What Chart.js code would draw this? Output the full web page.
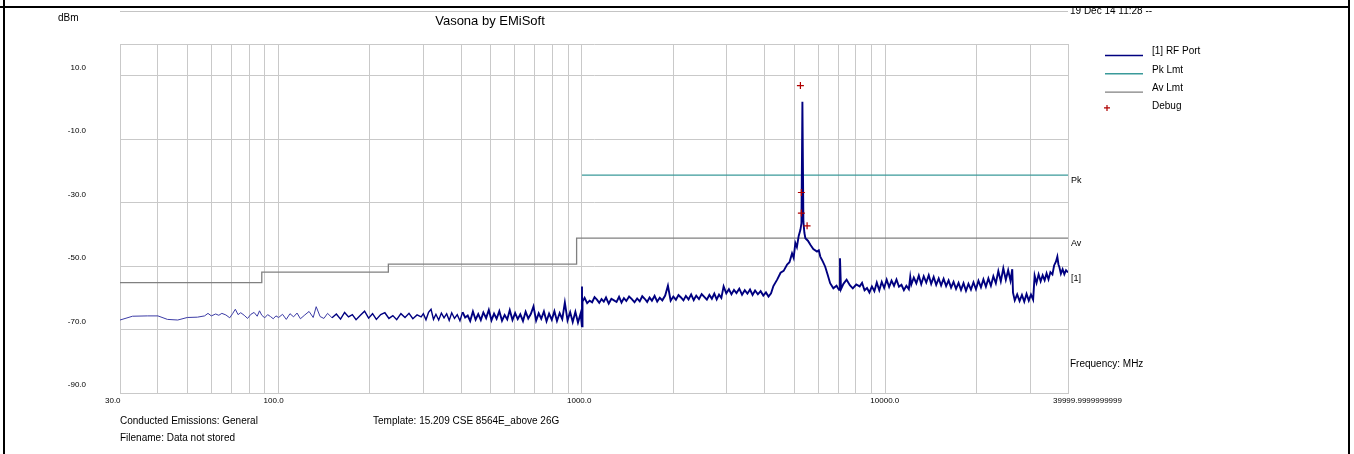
<!DOCTYPE html>
<html>
<head>
<meta charset="utf-8">
<title>Vasona by EMiSoft</title>
<script src="https://cdn.jsdelivr.net/npm/chart.js@4.4.1/dist/chart.umd.min.js"></script>
<style>
  html, body { margin: 0; padding: 0; background: #fff; }
  #wrap { width: 1354px; height: 454px; }
</style>
</head>
<body>
<div id="wrap"><canvas id="myChart" width="1354" height="454"></canvas></div>
<script>
// Sweep, frequency in MHz, level in dBm
var lowFreq = [30, 33, 37, 40, 43, 46.5, 50, 54, 57, 58.5, 60, 62, 63.5, 65, 67, 69, 70.5, 72, 73.5, 75,
    77, 79, 81, 83, 85, 86.5, 88, 90, 92, 94, 96, 98, 100];
var lowLevel = [-67.0, -65.8, -65.7, -65.7, -66.8, -67.0, -66.2, -66.1, -65.7, -64.9, -65.7, -65.1, -65.5, -64.9, -65.4, -66.3, -65.0, -63.6, -65.3, -64.7,
    -65.5, -66.5, -65.2, -64.6, -65.8, -64.1, -65.5, -66.3, -65.3, -65.9, -66.6, -65.7, -66.2];

var vhfFreq = [103, 106, 109, 112, 115, 118, 122, 126, 130, 133, 137, 141, 145, 150, 155, 160, 165, 170, 175, 180,
    186, 192, 198, 204, 210, 217, 224, 231, 238, 245, 253, 261, 269, 277, 286, 295];
var vhfLevel = [-65.2, -66.8, -65.0, -66.0, -64.8, -66.6, -65.4, -64.3, -66.2, -62.8, -65.9, -66.5, -64.9, -66.3, -65.1, -66.7, -64.6, -66.0, -65.3, -66.9,
    -65.5, -64.2, -66.4, -65.0, -66.8, -65.3, -64.7, -66.5, -65.6, -66.9, -65.0, -66.2, -64.9, -66.6, -65.4, -66.0];

var uhfFreq = [300, 306, 312, 318, 324, 330, 337, 344, 351, 358, 365, 372, 380, 388, 396, 404, 412, 420, 428, 437,
    446, 455, 464, 473, 483, 493, 503, 513, 523, 534, 545, 556, 567, 578, 590, 602, 614, 626, 639, 652,
    665, 678, 692, 706, 720, 734, 749, 764, 779, 795, 811, 827, 844, 861, 878, 896, 914, 932, 951, 970,
    990, 999, 1000, 1001, 1004];
var uhfLevel = [-65.0, -66.9, -64.6, -63.6, -66.8, -65.2, -67.0, -64.8, -66.3, -65.0, -67.1, -64.7, -66.5, -65.3, -67.2, -64.5, -66.2, -65.6, -67.3, -64.3,
    -66.9, -65.1, -67.0, -64.6, -66.4, -63.8, -67.1, -65.0, -66.6, -64.2, -67.2, -65.4, -66.8, -63.9, -67.0, -64.8, -66.7, -65.2, -67.3, -64.4,
    -66.5, -65.1, -62.7, -67.2, -64.9, -66.6, -64.3, -67.4, -65.0, -66.9, -64.2, -67.3, -64.8, -66.7, -61.5, -67.1, -64.5, -67.6, -64.4, -67.8,
    -64.9, -68.8, -56.4, -69.0, -61.2];

var lband1Freq = [1020, 1040, 1060, 1080, 1100, 1120, 1140, 1160, 1180, 1200, 1225, 1250, 1275, 1300, 1325, 1350, 1375, 1400, 1430, 1460,
    1490, 1520, 1550, 1580, 1610, 1640, 1670, 1700, 1735, 1770, 1805, 1840, 1880, 1920, 1960, 2000, 2040, 2080, 2120, 2160,
    2200, 2245, 2290, 2335, 2380, 2430, 2480, 2530, 2580, 2630, 2680, 2730, 2780, 2830, 2880];
var lband1Level = [-60.0, -61.7, -60.9, -61.4, -59.8, -60.6, -61.6, -60.4, -61.2, -59.9, -61.8, -60.3, -60.8, -61.3, -59.7, -61.5, -60.1, -61.0, -59.6, -60.4,
    -61.4, -60.2, -61.1, -59.5, -60.3, -61.3, -59.9, -60.9, -59.4, -61.2, -60.0, -60.8, -59.3, -56.2, -60.9, -59.6, -60.6, -59.1, -59.9, -60.8,
    -59.4, -60.5, -58.9, -60.7, -59.3, -60.4, -58.8, -59.7, -60.6, -59.1, -60.3, -58.7, -60.5, -59.0, -60.0];

var lband2Freq = [2930, 2990, 3050, 3110, 3170, 3230, 3300, 3370, 3440, 3510, 3580, 3650, 3720, 3800, 3880, 3960, 4040, 4120, 4200];
var lband2Level = [-56.4, -58.6, -57.3, -58.9, -57.5, -58.5, -57.1, -59.0, -57.6, -58.7, -57.4, -59.1, -57.7, -58.9, -57.9, -59.3, -58.3, -59.6, -58.6];

var carrierFreq = [4275, 4403, 4515, 4620, 4744, 4830, 4925, 4986, 5050, 5110, 5180, 5250, 5290, 5328, 5368, 5409, 5450, 5555, 5660, 5787,
    5952, 6034, 6103, 6218, 6335, 6454, 6576, 6738, 6904, 7034, 7087, 7141, 7275, 7452, 7637, 7810, 8017, 8230];
var carrierLevel = [-56.3, -54.2, -52.1, -51.5, -49.5, -48.8, -46.0, -47.4, -42.7, -44.0, -40.5, -38.5, -36.5, 1.8, -36.0, -39.5, -41.2, -42.0, -43.3, -44.6,
    -45.4, -45.0, -47.0, -48.5, -50.2, -52.7, -55.4, -57.0, -56.2, -57.5, -47.5, -57.3, -55.6, -54.3, -56.0, -57.0, -55.8, -56.4];

var upperFreq = [8380, 8540, 8700, 8860, 9030, 9200, 9370, 9550, 9730, 9910, 10100, 10290, 10480, 10680, 10880, 11090, 11300, 11510, 11730, 11950,
    12080, 12180, 12410, 12650, 12890, 13130, 13380, 13640, 13900, 14160, 14430, 14710, 14990, 15270, 15560, 15860, 16160, 16470, 16780, 17100,
    17430, 17760, 18100, 18440, 18790, 19150, 19520, 19890, 20270, 20660, 21050, 21450, 21860, 22280, 22700, 23130, 23570, 24020, 24480, 24950,
    25400, 25850, 26200, 26350, 26700, 27200, 27700, 28200, 28700, 29200, 29700, 30200, 30700, 31050, 31500, 32000, 32500, 33000, 33500, 34000,
    34500, 35000, 35540, 36000, 36500, 36890, 37200, 37460, 37900, 38400, 38900, 39400, 40000];
var upperLevel = [-55.3, -57.6, -56.9, -58.3, -56.4, -57.9, -55.2, -57.6, -55.0, -56.9, -54.3, -56.6, -54.6, -56.2, -54.2, -56.5, -55.9, -57.6, -56.2, -57.3,
    -53.4, -55.8, -53.6, -55.4, -53.0, -55.7, -53.2, -55.2, -52.9, -55.6, -53.4, -55.9, -53.9, -56.1, -54.0, -56.3, -54.5, -56.8, -55.0, -57.2,
    -55.3, -57.5, -55.4, -57.8, -55.6, -57.4, -55.1, -57.3, -54.6, -56.7, -54.2, -56.5, -53.9, -56.2, -53.2, -55.4, -51.6, -54.8, -50.7, -54.3,
    -51.3, -54.6, -51.0, -58.4, -60.8, -58.9, -61.0, -59.1, -61.2, -58.8, -60.9, -59.0, -60.6, -53.0, -55.3, -52.6, -54.8, -52.9, -54.5, -52.3,
    -54.2, -51.9, -52.6, -49.8, -48.6, -47.0, -49.5, -50.3, -52.4, -51.0, -52.6, -51.3, -52.0];

// Limit lines (15.209)
var pkFreq = [1000, 40000];
var pkLevel = [-21.3, -21.3];
var avFreq = [30, 88, 230, 960, 40000];
var avLevel = [-55.2, -51.9, -49.4, -41.2, -41.2];

// Debug markers
var debugFreq = [5248, 5287, 5287, 5521];
var debugLevel = [6.9, -26.8, -33.3, -37.3];

// Axes
var xGrid = [30, 40, 50, 60, 70, 80, 90, 100, 200, 300, 400, 500, 600, 700, 800, 900,
    1000, 2000, 3000, 4000, 5000, 6000, 7000, 8000, 9000, 10000, 20000, 30000, 40000];
var xTickText = { 30: '30.0', 100: '100.0', 1000: '1000.0', 10000: '10000.0', 40000: '39999.9999999999' };
var yGrid = [-90, -70, -50, -30, -10, 10, 20];

var titleText = 'Vasona by EMiSoft';
var stampText = '19 Dec 14 11:28 --';
var footerLeft = ['Conducted Emissions: General', 'Filename: Data not stored'];
var footerTemplate = 'Template: 15.209 CSE 8564E_above 26G';

var fontFamily = '"Liberation Sans", Arial, sans-serif';
var gridColor = '#c9c9c9';
var traceColor = '#000080';

function toPoints(freqs, levels) {
    let pts = [];
    for (let i = 0; i < freqs.length; i++) {
        pts.push({ x: freqs[i], y: levels[i] });
    }
    return pts;
}

var rfPoints = [].concat(
    toPoints(lowFreq, lowLevel),
    toPoints(vhfFreq, vhfLevel),
    toPoints(uhfFreq, uhfLevel),
    toPoints(lband1Freq, lband1Level),
    toPoints(lband2Freq, lband2Level),
    toPoints(carrierFreq, carrierLevel),
    toPoints(upperFreq, upperLevel)
);

// sparse low sweep is drawn thin and light, the dense sweep thicker
function segWidth(s) {
    let f = s.p0.parsed.x;
    if (f < 150) return 1;
    if (f < 400) return 1.4;
    return 1.9;
}

function segColor(s) {
    return s.p0.parsed.x < 150 ? '#3c3ca6' : traceColor;
}

/**
 * Header, footer, legend, trace tags and the page frame
 */
var sheetText = {
    id: 'sheetText',
    beforeDraw: function (chart) {
        let c = chart.ctx;
        c.save();
        c.fillStyle = '#fff';
        c.fillRect(0, 0, chart.width, chart.height);
        c.restore();
    },
    afterDraw: function (chart) {
        let c = chart.ctx;
        let area = chart.chartArea;
        let yS = chart.scales.y;
        let sets = chart.data.datasets;
        c.save();

        // rule along the top
        c.strokeStyle = '#c4c4c4';
        c.lineWidth = 1;
        c.beginPath();
        c.moveTo(area.left, 11.5);
        c.lineTo(area.right, 11.5);
        c.stroke();

        c.fillStyle = '#000';
        c.textBaseline = 'middle';
        c.textAlign = 'left';
        c.font = '10px ' + fontFamily;
        c.fillText('dBm', 58, 18);
        c.fillText(stampText, 1070, 11);
        c.fillText('Frequency: MHz', 1070, 364);
        c.fillText(footerLeft[0], 120, 421);
        c.fillText(footerLeft[1], 120, 438);
        c.fillText(footerTemplate, 373, 421);

        c.font = '13px ' + fontFamily;
        c.textAlign = 'center';
        c.fillText(titleText, 490, 21);

        // tags at the right end of the traces
        c.font = '9px ' + fontFamily;
        c.textAlign = 'left';
        c.fillText('Pk', area.right + 3, yS.getPixelForValue(pkLevel[pkLevel.length - 1]) + 5);
        c.fillText('Av', area.right + 3, yS.getPixelForValue(avLevel[avLevel.length - 1]) + 5);
        c.fillText('[1]', area.right + 3, yS.getPixelForValue(upperLevel[upperLevel.length - 1]) + 6);

        // legend
        c.font = '10px ' + fontFamily;
        for (let i = 0; i < sets.length; i++) {
            let ty = 51.5 + i * 18.3;
            let ds = sets[i];
            if (ds.showLine === false) {
                c.strokeStyle = ds.pointBorderColor;
                c.lineWidth = 1.2;
                c.beginPath();
                c.moveTo(1104, ty + 1.5);
                c.lineTo(1110, ty + 1.5);
                c.moveTo(1107, ty - 1.5);
                c.lineTo(1107, ty + 4.5);
                c.stroke();
            } else {
                c.strokeStyle = ds.borderColor;
                c.lineWidth = 1.4;
                c.beginPath();
                c.moveTo(1105, ty + 4);
                c.lineTo(1143, ty + 4);
                c.stroke();
            }
            c.fillStyle = '#000';
            c.fillText(ds.label, 1152, ty);
        }

        // black frame
        c.fillStyle = '#000';
        c.fillRect(0, 6, 1350, 2);
        c.fillRect(3, 0, 2, chart.height);
        c.fillRect(1348, 0, 2, chart.height);
        c.restore();
    }
};

var ctx = document.getElementById('myChart').getContext('2d');
var chart = new Chart(ctx, {
    type: 'line',
    data: {
        datasets: [
            {
                label: '[1] RF Port',
                data: rfPoints,
                borderColor: traceColor,
                borderWidth: 1.9,
                pointRadius: 0,
                segment: { borderWidth: segWidth, borderColor: segColor },
                order: 1
            },
            {
                label: 'Pk Lmt',
                data: toPoints(pkFreq, pkLevel),
                borderColor: '#3a9a9a',
                borderWidth: 1.3,
                pointRadius: 0,
                order: 2
            },
            {
                label: 'Av Lmt',
                data: toPoints(avFreq, avLevel),
                borderColor: '#808080',
                borderWidth: 1.3,
                pointRadius: 0,
                stepped: 'before',
                order: 3
            },
            {
                label: 'Debug',
                data: toPoints(debugFreq, debugLevel),
                showLine: false,
                pointStyle: 'cross',
                pointRadius: 3.5,
                pointBorderWidth: 1.2,
                pointBorderColor: '#b00000',
                pointBackgroundColor: '#b00000',
                order: 0
            }
        ]
    },
    options: {
        responsive: false,
        animation: false,
        devicePixelRatio: 1,
        layout: { padding: { left: 0, right: 286, top: 44, bottom: 41 } },
        plugins: {
            legend: { display: false },
            tooltip: { enabled: false },
            title: { display: false }
        },
        elements: { line: { tension: 0 } },
        scales: {
            x: {
                type: 'logarithmic',
                min: 30,
                max: 40000,
                afterBuildTicks: function (s) { s.ticks = xGrid.map(v => ({ value: v })); },
                afterFit: function (s) { s.height = 20; },
                grid: { color: gridColor, drawTicks: false },
                border: { color: gridColor },
                ticks: {
                    autoSkip: false,
                    maxRotation: 0,
                    align: 'start',
                    labelOffset: -15,
                    padding: 3,
                    color: '#000',
                    font: { family: fontFamily, size: 8 },
                    callback: function (v) { return xTickText[v] || ''; }
                }
            },
            y: {
                min: -90,
                max: 20,
                afterBuildTicks: function (s) { s.ticks = yGrid.map(v => ({ value: v })); },
                afterFit: function (s) { s.width = 120; },
                grid: { color: gridColor, drawTicks: false },
                border: { color: gridColor },
                ticks: {
                    labelOffset: -8,
                    padding: 34,
                    color: '#000',
                    font: { family: fontFamily, size: 8 },
                    callback: function (v) { return v === 20 ? '' : v.toFixed(1); }
                }
            }
        }
    },
    plugins: [sheetText]
});
</script>
</body>
</html>
